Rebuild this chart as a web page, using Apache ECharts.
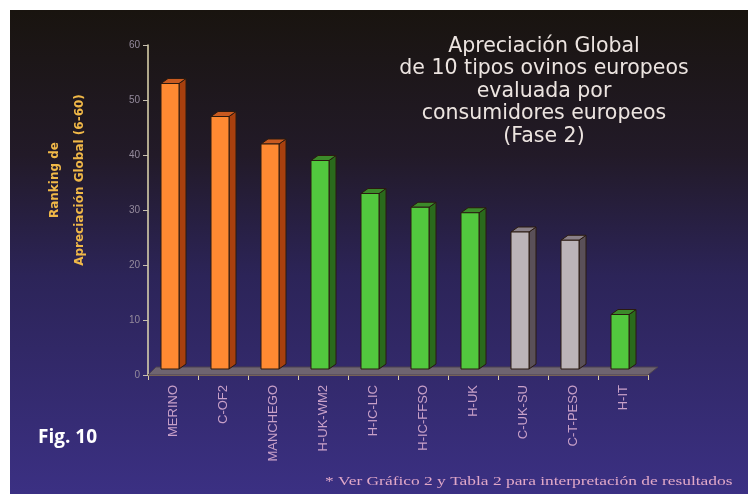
<!DOCTYPE html>
<html><head><meta charset="utf-8">
<script src="https://cdn.jsdelivr.net/npm/echarts@6/dist/echarts.min.js"></script>
<style>html,body{margin:0;padding:0;background:#fff}#c{width:754px;height:494px}</style>
</head><body><div id="c"></div>
<script>
var categories = ['MERINO','C-OF2','MANCHEGO','H-UK-WM2','H-IC-LIC','H-IC-FFSO','H-UK','C-UK-SU','C-T-PESO','H-IT'];
var values = [53, 47, 42, 39, 33, 30.5, 29.5, 26, 24.5, 11];
var groups = ['orange','orange','orange','green','green','green','green','grey','grey','green'];
var yTicks = [0, 10, 20, 30, 40, 50, 60];

var palette = {
  orange: {front:'#ff8a32', side:'#a8400e', top:'#c85a20'},
  green:  {front:'#52c83e', side:'#2a6a1c', top:'#3c8a2a'},
  grey:   {front:'#bcb4b8', side:'#5a5058', top:'#8a8088'}
};
var chart = echarts.init(document.getElementById('c'));
var DX = 7, DY = 5;
function barItem(params, api){
  var i = api.value(0), v = api.value(1);
  var top = api.coord([i, v]);
  var base = api.coord([i, 0]);
  var w = 18;
  var x0 = top[0] - w/2 - 3, x1 = x0 + w;
  var yb = base[1] - 6, yt = top[1];
  var c = palette[groups[params.dataIndex]];
  var edge = '#2a1a10';
  return {type:'group', children:[
    {type:'polygon', shape:{points:[[x1,yt],[x1+DX,yt-DY],[x1+DX,yb-DY],[x1,yb]]}, style:{fill:c.side, stroke:edge, lineWidth:1}},
    {type:'polygon', shape:{points:[[x0,yt],[x0+DX,yt-DY],[x1+DX,yt-DY],[x1,yt]]}, style:{fill:c.top, stroke:edge, lineWidth:1}},
    {type:'rect', shape:{x:x0, y:yt, width:w, height:yb-yt}, style:{fill:c.front, stroke:edge, lineWidth:1}}
  ]};
}
function floorItem(params, api){
  var cs = params.coordSys;
  var y = cs.y + cs.height;
  return {type:'polygon', silent:true, shape:{points:[[cs.x, y],[cs.x+8, y-8],[cs.x+cs.width+10, y-8],[cs.x+cs.width, y]]},
    style:{fill:'#6e6470', stroke:'#4a4050', lineWidth:1}};
}
var data = values.map(function(v,i){return [i, v];});
chart.setOption({
  animation:false,
  backgroundColor:'#fff',
  graphic:[
    {type:'rect', z:-10, shape:{x:10, y:10, width:738, height:484},
     style:{fill:new echarts.graphic.LinearGradient(0,0,0,1,[
       {offset:0, color:'#19140f'},{offset:0.3, color:'#221a28'},{offset:0.55, color:'#2c2458'},{offset:1, color:'#3b3083'}])}},
    {type:'text', left:38, top:428, style:{text:'Fig. 10', fill:'#ffffff', font:'bold 19px "Open Sans", sans-serif'}},
    {type:'text', x:325, y:476, scaleX:1.45, style:{text:'* Ver Gráfico 2 y Tabla 2 para interpretación de resultados', fill:'#e0a8c8', font:'12px "Liberation Serif", serif'}},
    {type:'text', x:544, y:35, style:{text:'Apreciación Global\nde 10 tipos ovinos europeos\nevaluada por\nconsumidores europeos\n(Fase 2)', fill:'#ece4e0', font:'20.5px "DejaVu Sans", sans-serif', lineHeight:22.5, textAlign:'center'}},
    {type:'text', x:67, y:180, rotation:Math.PI/2, style:{text:'Ranking de\nApreciación Global (6-60)', fill:'#f0b848', font:'bold 12px "DejaVu Sans", sans-serif', lineHeight:25, textAlign:'center', textVerticalAlign:'middle'}}
  ],
  grid:{left:148, right:106, top:45, bottom:119},
  xAxis:{type:'category', data:categories,
    axisLine:{lineStyle:{color:'#c8a058', width:1.5}},
    axisTick:{show:true, alignWithLabel:false, length:5, lineStyle:{color:'#d8c8a0'}},
    axisLabel:{rotate:90, color:'#c8a0c8', fontSize:13, fontFamily:'"Liberation Sans Narrow", "Liberation Sans", sans-serif', margin:10}},
  yAxis:{type:'value', min:0, max:60, interval:10,
    axisLine:{show:true, lineStyle:{color:'#e0d8b0', width:1.5}},
    axisTick:{show:true, length:5, lineStyle:{color:'#c8c0b0'}},
    axisLabel:{color:'#948a9c', fontSize:10, fontFamily:'"Liberation Sans Narrow", "Liberation Sans", sans-serif', margin:8,
      formatter:function(v){return yTicks.indexOf(v)>=0 ? String(v) : '';}},
    splitLine:{show:false}},
  series:[
    {type:'custom', renderItem:floorItem, data:[[0,0]], z:1, silent:true},
    {type:'custom', renderItem:barItem, data:data, z:2, encode:{x:0, y:1}}
  ]
});
</script></body></html>
